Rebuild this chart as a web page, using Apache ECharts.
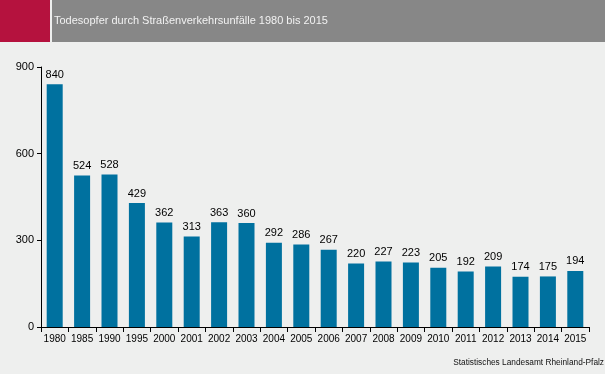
<!DOCTYPE html>
<html><head><meta charset="utf-8">
<script src="https://cdn.jsdelivr.net/npm/echarts@6/dist/echarts.min.js"></script>
<style>html,body{margin:0;padding:0;background:#eeefee;}#c{width:605px;height:374px;}</style>
</head><body><div id="c"></div>
<script>
const categories = ['1980','1985','1990','1995','2000','2001','2002','2003','2004','2005','2006','2007','2008','2009','2010','2011','2012','2013','2014','2015'];
const deaths = [840,524,528,429,362,313,363,360,292,286,267,220,227,223,205,192,209,174,175,194];
const yTicks = [0,300,600,900];
const titleText = 'Todesopfer durch Straßenverkehrsunfälle 1980 bis 2015';
const sourceText = 'Statistisches Landesamt Rheinland-Pfalz';

const chart = echarts.init(document.getElementById('c'), null, {renderer:'canvas'});
const font = '"Liberation Sans", Arial, sans-serif';
chart.setOption({
  backgroundColor:'#eeefee',
  animation:false,
  graphic:[
    {type:'rect', shape:{x:0,y:0,width:50,height:42}, style:{fill:'#b5123e'}},
    {type:'rect', shape:{x:52,y:0,width:553,height:42}, style:{fill:'#878787'}},
    {type:'text', left:54, top:15, style:{text:titleText, fill:'#f2f2f2', font:'11px '+font}},
    {type:'text', right:1, top:359, style:{text:sourceText, fill:'#111', font:'8.3px '+font}}
  ],
  grid:{left:41, right:16, top:67, bottom:47},
  xAxis:{
    type:'category', data:categories,
    axisLine:{lineStyle:{color:'#000', width:1}},
    axisTick:{show:true, length:5, lineStyle:{color:'#000'}},
    axisLabel:{color:'#000', fontSize:10, fontFamily:font, margin:7, interval:0}
  },
  yAxis:{
    type:'value', min:0, max:900, interval:300,
    axisLine:{show:true, lineStyle:{color:'#000', width:1}},
    axisTick:{show:true, length:4, lineStyle:{color:'#000'}},
    splitLine:{show:false},
    axisLabel:{color:'#000', fontSize:11, fontFamily:font, margin:7,
      customValues: yTicks}
  },
  series:[{
    type:'bar', data:deaths, barWidth:16,
    itemStyle:{color:'#00719f'},
    label:{show:true, position:'top', color:'#000', fontSize:11, fontFamily:font, distance:4}
  }]
});
</script></body></html>
